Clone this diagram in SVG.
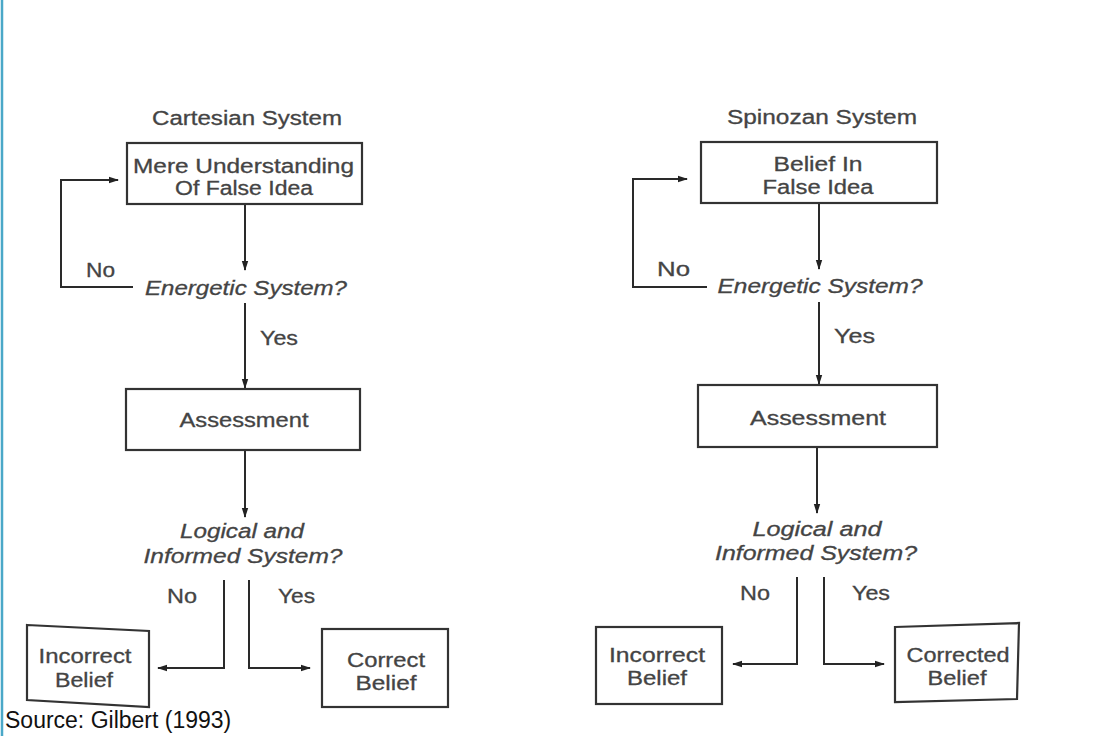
<svg xmlns="http://www.w3.org/2000/svg" width="1110" height="736" viewBox="0 0 1110 736">
<defs>
<marker id="ah" viewBox="0 0 10 8" refX="9" refY="4" markerWidth="10" markerHeight="8" markerUnits="userSpaceOnUse" orient="auto">
<path d="M0,0.8 L10,4 L0,7.2 Z" fill="#222"/>
</marker>
<style>
.box{fill:#fff;stroke:#333;stroke-width:2.2}
.ln{fill:none;stroke:#2a2a2a;stroke-width:2}
.ar{fill:none;stroke:#2a2a2a;stroke-width:2;marker-end:url(#ah)}
.t{font-family:"Liberation Sans",Arial,sans-serif;font-size:20px;fill:#444;text-anchor:middle;stroke:#444;stroke-width:0.3}
.i{font-style:italic}
.src{font-family:"Liberation Sans",Arial,sans-serif;font-size:23px;fill:#111}
</style>
</defs>
<rect width="1110" height="736" fill="#fff"/>
<line x1="2" y1="0" x2="2" y2="736" stroke="#4aa8c8" stroke-width="2.5"/>

<g id="connectors">
<!-- left -->
<line class="ar" x1="245" y1="204" x2="245" y2="270"/>
<polyline class="ar" points="133,287 61,287 61,180 118,180"/>
<line class="ar" x1="245" y1="303" x2="245" y2="388"/>
<line class="ar" x1="245" y1="450" x2="245" y2="517"/>
<polyline class="ar" points="224,580 224,668 158,668"/>
<polyline class="ar" points="249,580 249,668 310,668"/>
<!-- right -->
<line class="ar" x1="819" y1="203" x2="819" y2="269"/>
<polyline class="ar" points="707,287 633,287 633,179 687,179"/>
<line class="ar" x1="819" y1="302" x2="819" y2="384"/>
<line class="ar" x1="817" y1="447" x2="817" y2="513"/>
<polyline class="ar" points="797,577 797,664 733,664"/>
<polyline class="ar" points="824,577 824,664 884,664"/>
</g>

<g id="cartesian-title"><text class="t" x="247" y="125" textLength="190" lengthAdjust="spacingAndGlyphs">Cartesian System</text></g>
<g id="c-mere">
<rect class="box" x="127" y="143" width="235" height="61"/>
<text class="t" x="243.5" y="173" textLength="221" lengthAdjust="spacingAndGlyphs">Mere Understanding</text>
<text class="t" x="244" y="195" textLength="138" lengthAdjust="spacingAndGlyphs">Of False Idea</text>
</g>
<g id="c-energetic"><text class="t i" x="246" y="295" textLength="202" lengthAdjust="spacingAndGlyphs">Energetic System?</text></g>
<g id="c-labels">
<text class="t" x="100.5" y="277" textLength="29" lengthAdjust="spacingAndGlyphs">No</text>
<text class="t" x="279" y="345" textLength="38" lengthAdjust="spacingAndGlyphs">Yes</text>
<text class="t" x="182" y="603" textLength="30" lengthAdjust="spacingAndGlyphs">No</text>
<text class="t" x="296.5" y="603" textLength="37" lengthAdjust="spacingAndGlyphs">Yes</text>
</g>
<g id="c-assessment">
<rect class="box" x="126" y="389" width="234" height="61"/>
<text class="t" x="244" y="427" textLength="129" lengthAdjust="spacingAndGlyphs">Assessment</text>
</g>
<g id="c-logical">
<text class="t i" x="242" y="538" textLength="124" lengthAdjust="spacingAndGlyphs">Logical and</text>
<text class="t i" x="243" y="563" textLength="199" lengthAdjust="spacingAndGlyphs">Informed System?</text>
</g>
<g id="c-incorrect">
<polygon class="box" points="27,625 149,631 149,707 27,700"/>
<text class="t" x="85" y="663" textLength="93" lengthAdjust="spacingAndGlyphs">Incorrect</text>
<text class="t" x="84" y="687" textLength="58" lengthAdjust="spacingAndGlyphs">Belief</text>
</g>
<g id="c-correct">
<rect class="box" x="322" y="629" width="126" height="78"/>
<text class="t" x="386" y="667" textLength="78" lengthAdjust="spacingAndGlyphs">Correct</text>
<text class="t" x="386" y="690" textLength="61" lengthAdjust="spacingAndGlyphs">Belief</text>
</g>

<g id="spinozan-title"><text class="t" x="822" y="124" textLength="190" lengthAdjust="spacingAndGlyphs">Spinozan System</text></g>
<g id="s-belief">
<rect class="box" x="701" y="142" width="236" height="61"/>
<text class="t" x="818" y="171" textLength="89" lengthAdjust="spacingAndGlyphs">Belief In</text>
<text class="t" x="818" y="194" textLength="111" lengthAdjust="spacingAndGlyphs">False Idea</text>
</g>
<g id="s-energetic"><text class="t i" x="820" y="293" textLength="205" lengthAdjust="spacingAndGlyphs">Energetic System?</text></g>
<g id="s-labels">
<text class="t" x="673.5" y="276" textLength="33" lengthAdjust="spacingAndGlyphs">No</text>
<text class="t" x="854.5" y="343" textLength="41" lengthAdjust="spacingAndGlyphs">Yes</text>
<text class="t" x="755" y="600" textLength="30" lengthAdjust="spacingAndGlyphs">No</text>
<text class="t" x="871" y="600" textLength="38" lengthAdjust="spacingAndGlyphs">Yes</text>
</g>
<g id="s-assessment">
<rect class="box" x="698" y="385" width="239" height="62"/>
<text class="t" x="818" y="425" textLength="136" lengthAdjust="spacingAndGlyphs">Assessment</text>
</g>
<g id="s-logical">
<text class="t i" x="817" y="536" textLength="129" lengthAdjust="spacingAndGlyphs">Logical and</text>
<text class="t i" x="816" y="560" textLength="202" lengthAdjust="spacingAndGlyphs">Informed System?</text>
</g>
<g id="s-incorrect">
<rect class="box" x="596" y="627" width="126" height="77"/>
<text class="t" x="657" y="662" textLength="96" lengthAdjust="spacingAndGlyphs">Incorrect</text>
<text class="t" x="657" y="685" textLength="60" lengthAdjust="spacingAndGlyphs">Belief</text>
</g>
<g id="s-corrected">
<polygon class="box" points="895,627 1019,623 1017,699 895,702"/>
<text class="t" x="958" y="662" textLength="103" lengthAdjust="spacingAndGlyphs">Corrected</text>
<text class="t" x="957" y="685" textLength="59" lengthAdjust="spacingAndGlyphs">Belief</text>
</g>

<g id="source"><text class="src" x="5" y="728">Source: Gilbert (1993)</text></g>
</svg>
